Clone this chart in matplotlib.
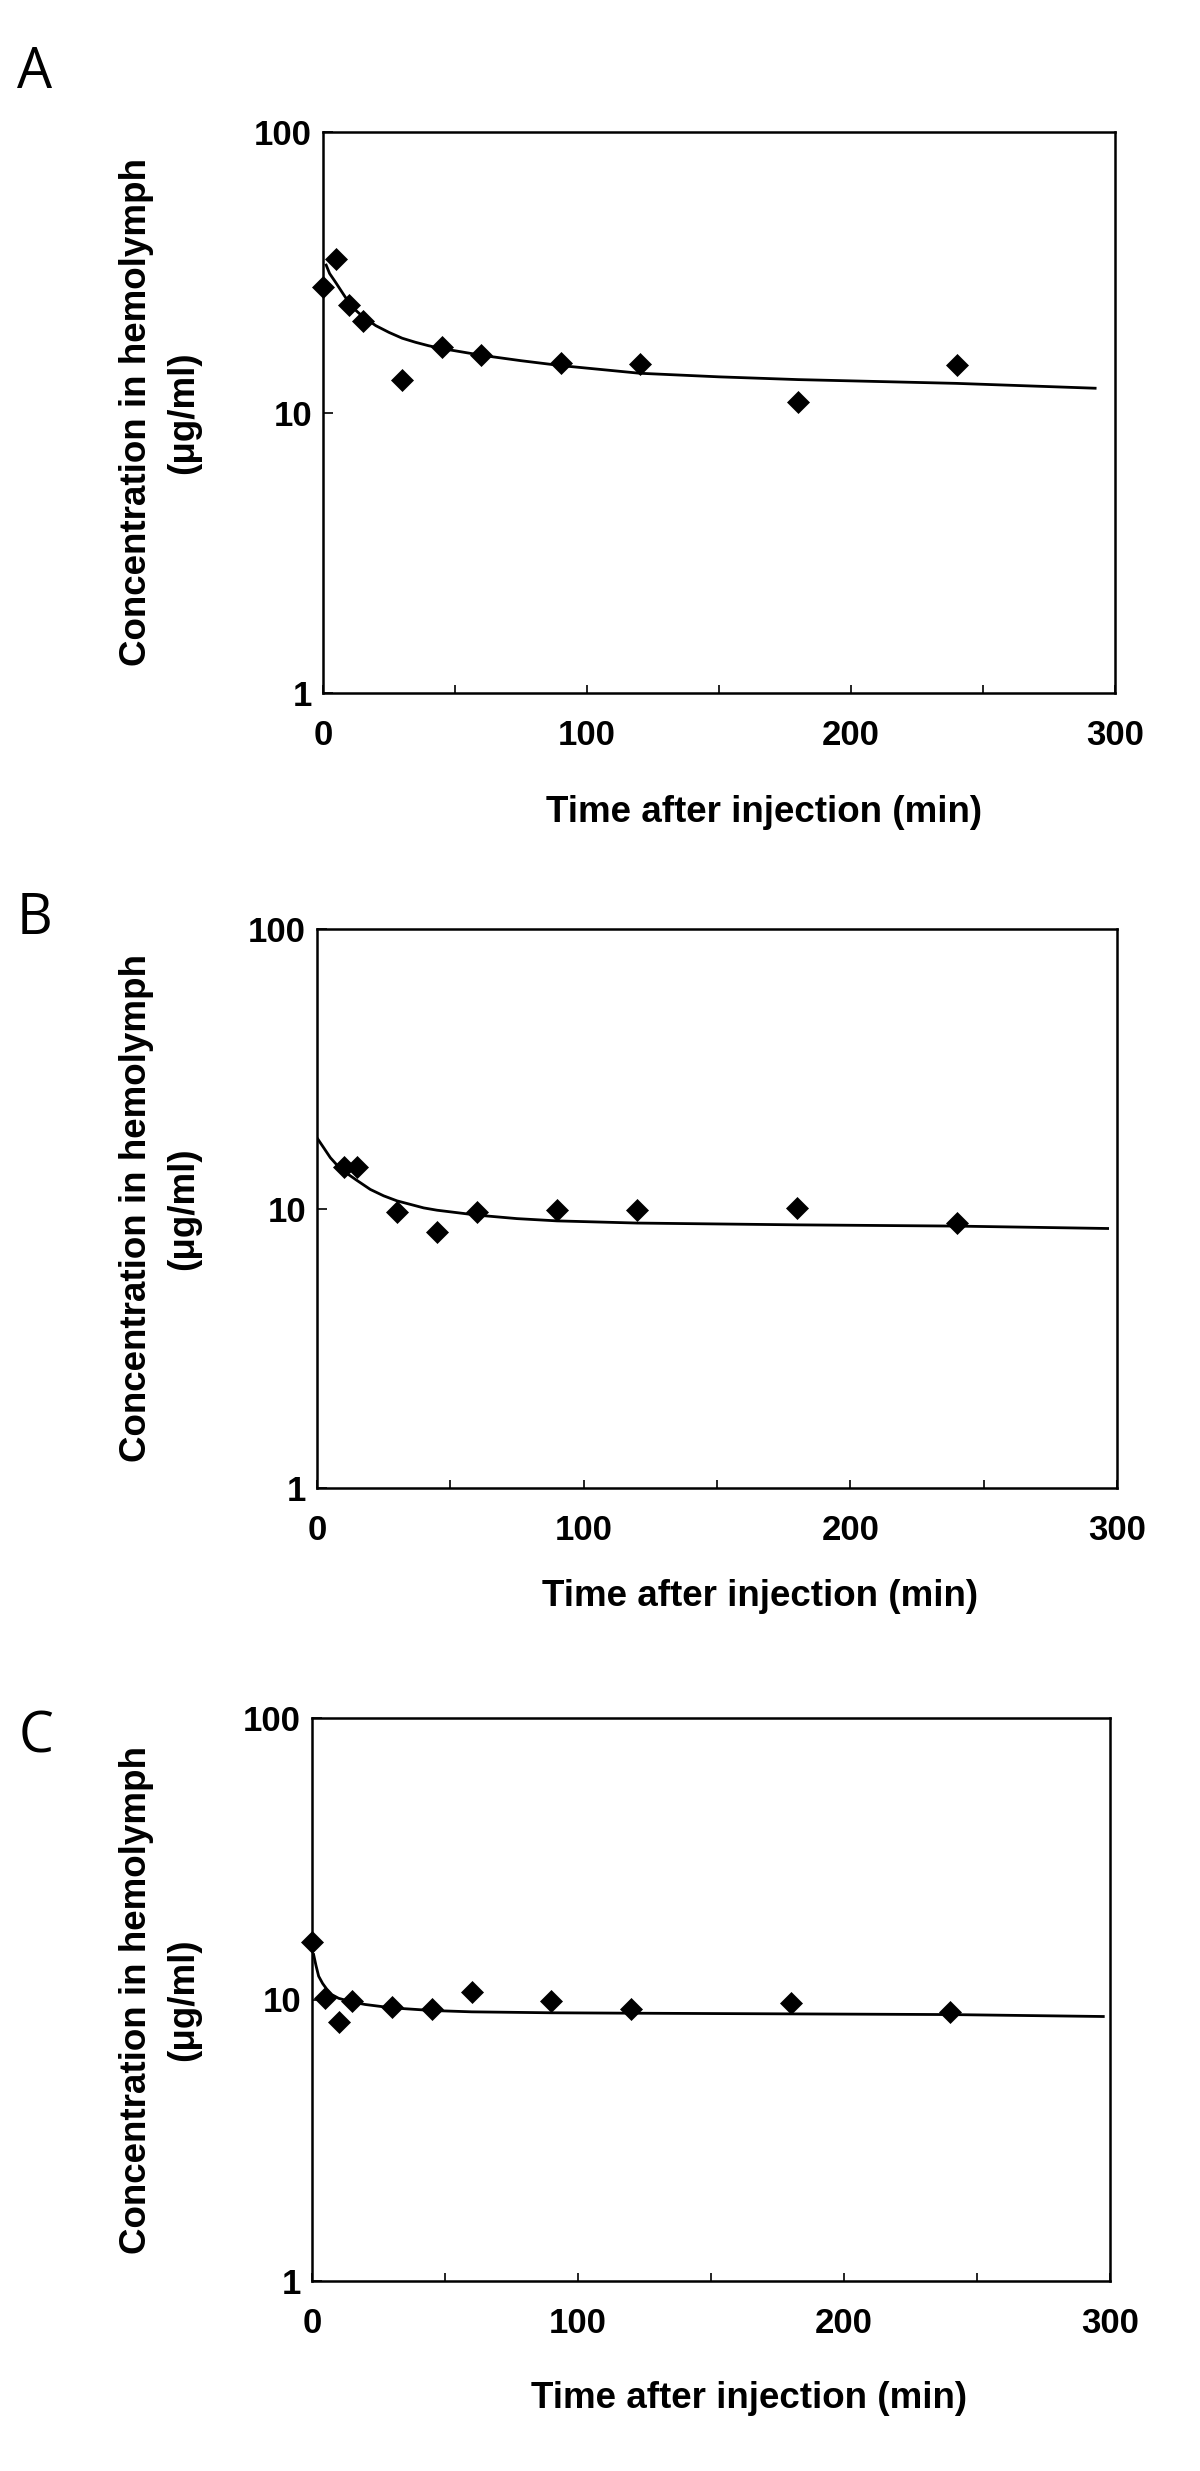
import matplotlib
matplotlib.use('Agg')
import matplotlib.pyplot as plt
from matplotlib.ticker import FixedLocator, NullFormatter, NullLocator

W, H = 1200, 2471
DPI = 100

# ---------------- data ----------------
a_time = [0, 5, 10, 15, 30, 45, 60, 90, 120, 180, 240]
a_conc = [28.1, 35.3, 24.2, 21.2, 13.1, 17.1, 16.0, 15.0, 14.9, 10.9, 14.8]
a_fit_time = [1, 2.5, 5, 7.5, 10, 12.5, 15, 20, 25, 30, 35, 40, 45, 50, 60, 75, 90,
              120, 150, 180, 240, 293]
a_fit_conc = [33.9, 31.3, 28.9, 26.6, 24.5, 23.1, 22.0, 20.4, 19.3, 18.4, 17.8, 17.3, 16.9,
              16.6, 16.0, 15.3, 14.7, 13.8, 13.4, 13.1, 12.7, 12.2]

b_time = [10, 15, 30, 45, 60, 90, 120, 180, 240]
b_conc = [14.1, 14.1, 9.73, 8.25, 9.73, 9.89, 9.89, 10.08, 8.86]
b_fit_time = [0, 2.5, 5, 7.5, 10, 15, 20, 25, 30, 40, 45, 60, 75, 90, 120, 180, 240, 297]
b_fit_conc = [17.9, 16.5, 15.2, 14.3, 13.6, 12.6, 11.7, 11.1, 10.65, 10.05, 9.86, 9.47,
              9.2, 9.03, 8.87, 8.74, 8.65, 8.48]

c_time = [0, 5, 10, 15, 30, 45, 60, 90, 120, 180, 240]
c_conc = [16.0, 10.1, 8.33, 9.86, 9.42, 9.29, 10.6, 9.86, 9.29, 9.68, 9.04]
c_fit_time = [0.5, 1.5, 2.5, 4, 5.5, 7.5, 10, 15, 20, 30, 45, 60, 90, 120, 180, 240, 298]
c_fit_conc = [14.6, 13.2, 12.1, 11.4, 10.9, 10.4, 10.1, 9.8, 9.6, 9.34, 9.14, 9.04, 8.97,
              8.94, 8.89, 8.84, 8.70]

panel_letters = ["A", "B", "C"]
x_major = [0, 100, 200, 300]
x_minor = [50, 150, 250]
y_ticks = [1, 10, 100]
y_tick_labels = ["1", "10", "100"]
x_label = "Time after injection (min)"
y_label_1 = "Concentration in hemolymph"
y_label_2 = "(\u03bcg/ml)"

# ---------------- layout (pixels) ----------------
# (left, right, top, bottom) of each axes frame
boxes = [(323, 1115, 132, 693), (317, 1117, 929, 1488), (312, 1110, 1718, 2281)]
letter_pos = [(35, 73), (35, 920), (36, 1738)]
xlabel_pos = [(764, 813), (760, 1597), (749, 2399)]

BOLD = ['Liberation Sans', 'DejaVu Sans']
fig = plt.figure(figsize=(W / DPI, H / DPI), dpi=DPI)


def fx(px):
    return px / W


def fy(py):
    return 1 - py / H


panels = [
    (a_time, a_conc, a_fit_time, a_fit_conc),
    (b_time, b_conc, b_fit_time, b_fit_conc),
    (c_time, c_conc, c_fit_time, c_fit_conc),
]

for i, (t, c, ft, fc) in enumerate(panels):
    L, R, T, B = boxes[i]
    ax = fig.add_axes([fx(L), fy(B), (R - L) / W, (B - T) / H])
    ax.plot(ft, fc, color='black', lw=2.0, solid_capstyle='butt',
            solid_joinstyle='round', zorder=2)
    ax.plot(t, c, linestyle='none', marker='D', ms=11, color='black',
            markeredgewidth=0.5, zorder=3, clip_on=False)
    ax.set_yscale('log')
    ax.set_xlim(0, 300)
    ax.set_ylim(1, 100)
    ax.yaxis.set_major_locator(FixedLocator(y_ticks))
    ax.yaxis.set_minor_locator(NullLocator())
    ax.set_yticklabels(y_tick_labels)
    ax.xaxis.set_major_locator(FixedLocator(x_major))
    ax.xaxis.set_minor_locator(FixedLocator(x_minor))
    ax.xaxis.set_minor_formatter(NullFormatter())
    ax.set_xticklabels([str(v) for v in x_major])
    ax.tick_params(axis='x', which='both', direction='in', length=6, width=1.2,
                   pad=19, labelsize=25)
    ax.tick_params(axis='y', which='both', direction='in', length=7, width=1.2,
                   pad=8, labelsize=25)
    for lab in ax.get_xticklabels() + ax.get_yticklabels():
        lab.set_fontfamily(BOLD)
        lab.set_fontweight('bold')
    for sp in ax.spines.values():
        sp.set_linewidth(1.8)
        sp.set_color('black')

    # y label (two lines)
    yc = (T + B) / 2
    fig.text(fx(136), fy(yc), y_label_1, rotation=90, ha='center', va='center',
             fontsize=26.5, fontweight='bold', family=BOLD)
    fig.text(fx(184), fy(yc), y_label_2, rotation=90, ha='center', va='center',
             fontsize=26.5, fontweight='bold', family=BOLD)
    # x label
    xx, xy = xlabel_pos[i]
    fig.text(fx(xx), fy(xy), x_label, ha='center', va='center',
             fontsize=26.5, fontweight='bold', family=BOLD)
    # panel letter
    lx, ly = letter_pos[i]
    fig.text(fx(lx), fy(ly), panel_letters[i], ha='center', va='center',
             fontsize=40, family=['Open Sans', 'DejaVu Sans'])

fig.savefig('out.png', dpi=DPI, facecolor='white')
